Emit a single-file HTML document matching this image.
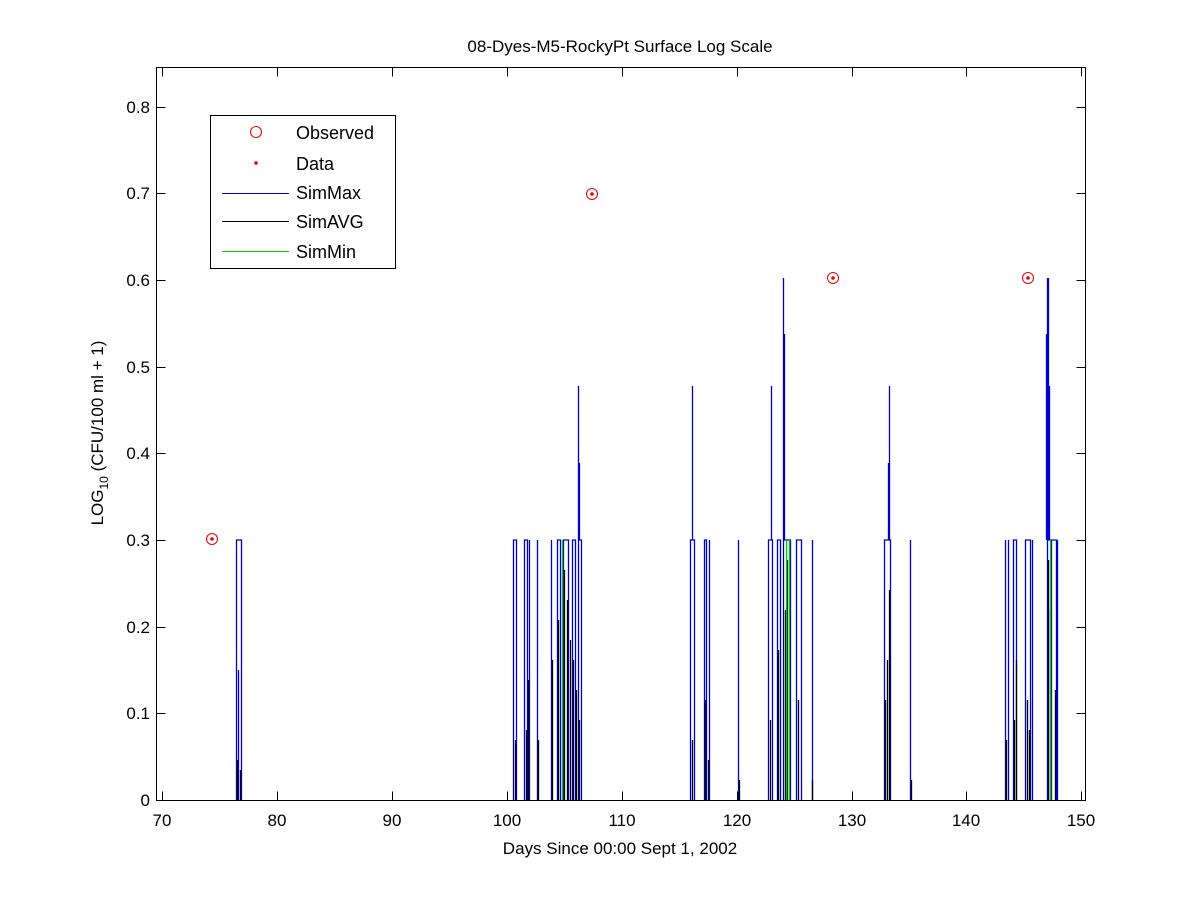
<!DOCTYPE html>
<html><head><meta charset="utf-8"><style>
html,body{margin:0;padding:0;background:#fff;}
svg text{font-family:"Liberation Sans",Arial,sans-serif;fill:#000;}
</style></head><body>
<svg width="1200" height="900" viewBox="0 0 1200 900" xmlns="http://www.w3.org/2000/svg">
<rect width="1200" height="900" fill="#fff"/>
<text x="620" y="52" font-size="17" text-anchor="middle">08-Dyes-M5-RockyPt Surface Log Scale</text>
<g fill="none" stroke-width="1.3" transform="translate(0.5,0)">
<path stroke="#0000cc" d="M236 800V540H241V800M238 800V670
M513 800V540H516V800M524 800V540H527V800M529 800V540V800M537 800V540V800M551 800V540V800M557 800V540H560V800M563 800V540H568V800M572 800V540H575V800M578 800V540V386V540H581V800M579 540V463
M690 800V540H694V800M692 540V386M704 800V540H706V800M709 800V540V800M738 800V540V800
M768 800V540H772V800M771 540V386M777 800V540H780V800M783 800V540V278V540H790V800M784 540V334M796 800V540H801V800M812 800V540V800
M884 800V540H890V800M889 540V386M888 540V463M910 800V540V800
M1005 800V540V800M1008 800V540V800M1013 800V540H1016V800M1025 800V540H1030V800M1032 800V540V800M1047 800V540V278M1046 540V334M1048 278V540H1056V800M1049 540V386M1051 540V800M1057 800V540V800"/>
<path stroke="#000" d="M237 800V760M240 800V770M515 800V740M526 800V730M528 800V680M538 800V740M552 800V660M558 800V620M564 800V570M567 800V600M570 800V640M573 800V660M576 800V690M579 800V720
M692 800V740M705 800V700M708 800V760M739 800V780M770 800V720M778 800V650M785 800V610M787 800V560M798 800V700M812 800V780
M885 800V700M887 800V660M889 800V590M911 800V780M1006 800V740M1014 800V720M1016 800V660M1027 800V700M1029 800V730M1048 800V560M1050 800V610M1055 800V690"/>
<path stroke="#00cc00" d="M562 800V540M786 800V540M789 800V540M1050 800V540"/>
</g>
<g stroke="#e00" fill="none" stroke-width="1">
<circle cx="212" cy="539" r="5.5"/><circle cx="592" cy="194" r="5.5"/><circle cx="833" cy="278" r="5.5"/><circle cx="1028" cy="278" r="5.5"/>
</g>
<g fill="#e00"><circle cx="212" cy="539" r="1.8"/><circle cx="592" cy="194" r="1.8"/><circle cx="833" cy="278" r="1.8"/><circle cx="1028" cy="278" r="1.8"/></g>
<g transform="translate(0.5,0.5)">
<rect x="156" y="67" width="929" height="733" fill="none" stroke="#000"/>
<path stroke="#000" stroke-width="1" d="M162 800v-9M277 800v-9M392 800v-9M507 800v-9M622 800v-9M737 800v-9M852 800v-9M966 800v-9M1081 800v-9
M162 67v9M277 67v9M392 67v9M507 67v9M622 67v9M737 67v9M852 67v9M966 67v9M1081 67v9
M156 713h9M156 627h9M156 540h9M156 453h9M156 367h9M156 280h9M156 193h9M156 107h9
M1085 713h-9M1085 627h-9M1085 540h-9M1085 453h-9M1085 367h-9M1085 280h-9M1085 193h-9M1085 107h-9"/>
</g>
<g font-size="17" text-anchor="middle">
<text x="162" y="826">70</text><text x="277" y="826">80</text><text x="392" y="826">90</text><text x="507" y="826">100</text><text x="622" y="826">110</text><text x="737" y="826">120</text><text x="852" y="826">130</text><text x="966" y="826">140</text><text x="1081" y="826">150</text>
</g>
<g font-size="17" text-anchor="end">
<text x="150" y="806">0</text><text x="150" y="719">0.1</text><text x="150" y="633">0.2</text><text x="150" y="546">0.3</text><text x="150" y="459">0.4</text><text x="150" y="373">0.5</text><text x="150" y="286">0.6</text><text x="150" y="199">0.7</text><text x="150" y="113">0.8</text>
</g>
<text x="620" y="854" font-size="17" text-anchor="middle">Days Since 00:00 Sept 1, 2002</text>
<text transform="translate(103,433) rotate(-90)" font-size="17" text-anchor="middle">LOG<tspan font-size="12" dy="5">10</tspan><tspan dy="-5"> (CFU/100 ml + 1)</tspan></text>
<rect x="210.5" y="115.5" width="185" height="153" fill="#fff" stroke="#000"/>
<circle cx="256" cy="132" r="5.5" fill="none" stroke="#e00"/>
<circle cx="256" cy="163" r="1.8" fill="#e00"/>
<rect x="222" y="193" width="67" height="1" fill="#0000cc"/>
<rect x="222" y="221" width="67" height="1" fill="#000000"/>
<rect x="222" y="251" width="67" height="1" fill="#00cc00"/>
<g font-size="18">
<text x="296" y="139">Observed</text><text x="296" y="170">Data</text><text x="296" y="199">SimMax</text><text x="296" y="228">SimAVG</text><text x="296" y="258">SimMin</text>
</g>
</svg>
</body></html>
